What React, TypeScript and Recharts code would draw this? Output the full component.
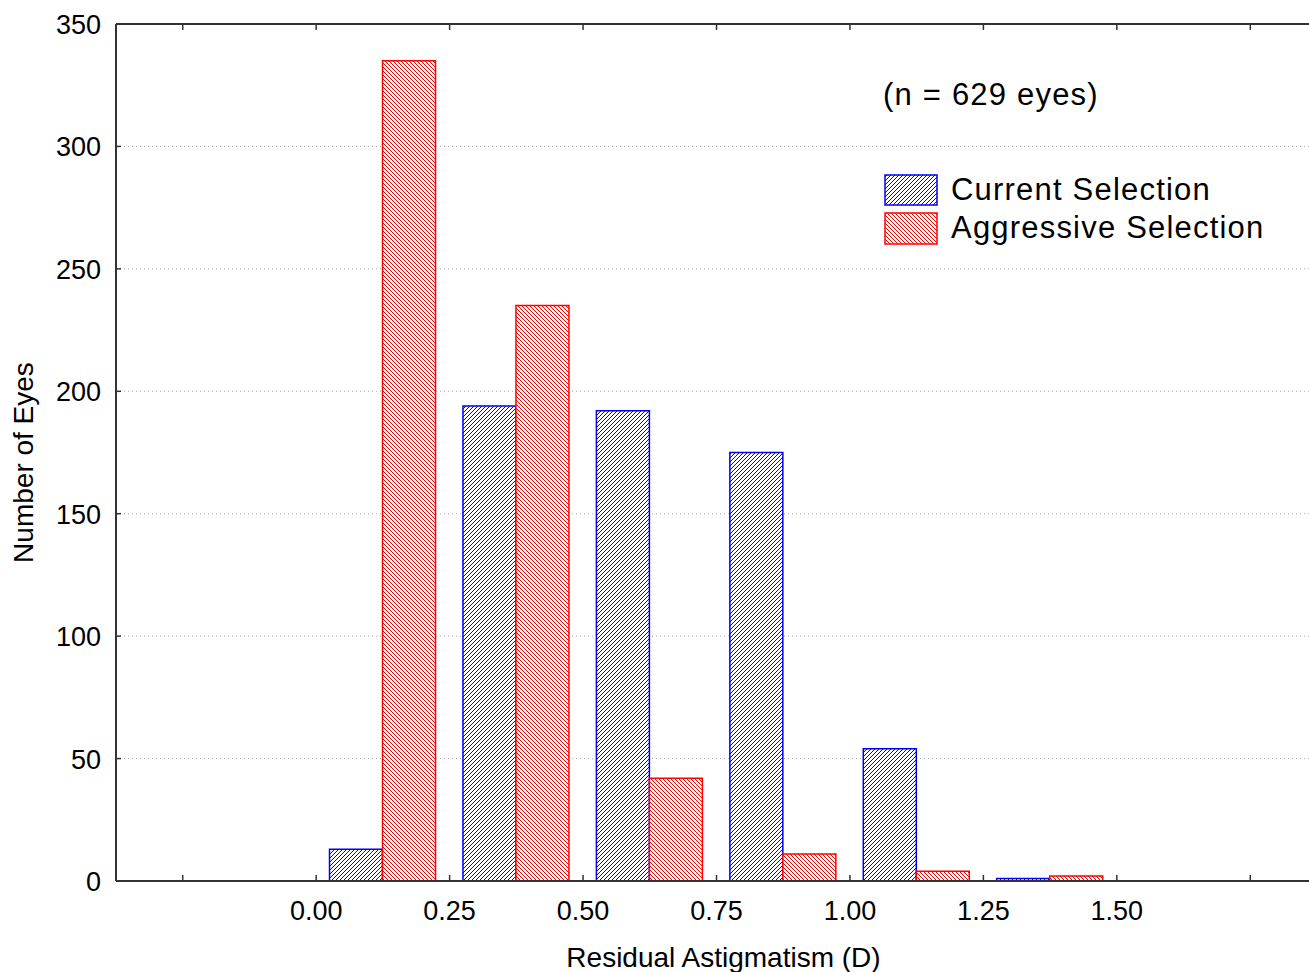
import React from 'react';
import { BarChart, Bar, XAxis, YAxis, CartesianGrid, Legend, ReferenceLine } from 'recharts';

// Histogram bins (bin centres, in D)
const bins = [0.125, 0.375, 0.625, 0.875, 1.125, 1.375];
const currentSelection = [13, 194, 192, 175, 54, 1];
const aggressiveSelection = [335, 235, 42, 11, 4, 2];

const xTicks = [-0.25, 0, 0.25, 0.5, 0.75, 1.0, 1.25, 1.5, 1.75];
const yTicks = [0, 50, 100, 150, 200, 250, 300, 350];

const data = bins.map((x, i) => ({
  x,
  current: currentSelection[i],
  aggressive: aggressiveSelection[i],
}));

const FONT = '"Liberation Sans", Arial, Helvetica, sans-serif';
const AXIS = '#333';
const BLUE = '#0000ff';
const RED = '#ff0000';

// pixel staircase for the 4x4 hatch tiles
const TILE = [0, 1, 2, 3];

function BottomTick(props: any) {
  const { x, y, payload } = props;
  const v = payload.value;
  const label = v < 0 || v > 1.5 ? '' : v.toFixed(2);
  return (
    <g>
      <line x1={x} y1={y} x2={x} y2={y - 6} stroke={AXIS} strokeWidth={1.5} />
      <text x={x} y={y + 39} textAnchor="middle" fontSize={27} fill="#000" fontFamily={FONT}>
        {label}
      </text>
    </g>
  );
}

function TopTick(props: any) {
  const { x, y } = props;
  return <line x1={x} y1={y} x2={x} y2={y + 6} stroke={AXIS} strokeWidth={1.5} />;
}

function LeftTick(props: any) {
  const { x, y, payload } = props;
  return (
    <g>
      <line x1={x} y1={y} x2={x + 5} y2={y} stroke={AXIS} strokeWidth={1.5} />
      <text x={x - 15} y={y + 10} textAnchor="end" fontSize={27} fill="#000" fontFamily={FONT}>
        {payload.value}
      </text>
    </g>
  );
}

function XTitle({ viewBox }: any) {
  return (
    <text
      x={viewBox.x + viewBox.width / 2 + 11}
      y={viewBox.y + 86}
      textAnchor="middle"
      fontSize={28}
      fill="#000"
      fontFamily={FONT}
    >
      Residual Astigmatism (D)
    </text>
  );
}

function YTitle({ viewBox }: any) {
  const x = viewBox.x + 33;
  const y = viewBox.y + viewBox.height / 2 + 10;
  return (
    <text
      x={x}
      y={y}
      transform={`rotate(-90, ${x}, ${y})`}
      textAnchor="middle"
      fontSize={28}
      fill="#000"
      fontFamily={FONT}
    >
      Number of Eyes
    </text>
  );
}

function LegendBox() {
  const txt = { fontSize: 31, fill: '#000', fontFamily: FONT, letterSpacing: 1.2 } as const;
  return (
    <svg width={440} height={200} style={{ display: 'block' }}>
      <text x={13} y={45} {...txt}>(n = 629 eyes)</text>
      <rect x={15} y={115} width={52} height={30} fill="url(#hatchBlue)" stroke={BLUE} strokeWidth={1.5} />
      <text x={81} y={140} {...txt}>Current Selection</text>
      <rect x={15} y={153} width={52} height={31} fill="url(#hatchRed)" stroke={RED} strokeWidth={1.5} />
      <text x={81} y={178} {...txt}>Aggressive Selection</text>
    </svg>
  );
}

export default function App() {
  return (
    <div
      style={{
        position: 'absolute',
        left: 0,
        top: 0,
        width: 1309,
        height: 972,
        overflow: 'hidden',
        background: '#fff',
        fontFamily: FONT,
      }}
    >
      <BarChart
        width={1309}
        height={972}
        data={data}
        margin={{ top: 23, right: 0, left: 0, bottom: 0 }}
        barGap={0}
        barCategoryGap="10%"
      >
        <defs>
          <pattern id="hatchBlue" patternUnits="userSpaceOnUse" width={4} height={4}>
            <rect width={4} height={4} fill="#fff" />
            {TILE.map((i) => (
              <rect key={i} x={i} y={3 - i} width={1} height={1} fill={BLUE} shapeRendering="crispEdges" />
            ))}
          </pattern>
          <pattern id="hatchRed" patternUnits="userSpaceOnUse" width={4} height={4}>
            <rect width={4} height={4} fill="#fff" />
            {TILE.map((i) => (
              <rect key={i} x={i} y={i} width={1} height={1} fill={RED} shapeRendering="crispEdges" />
            ))}
          </pattern>
        </defs>

        <CartesianGrid vertical={false} stroke="#aaa" strokeDasharray="1 3" />

        {/* Bottom axis with labels */}
        <XAxis
          dataKey="x"
          type="number"
          domain={[-0.375, 1.86]}
          allowDataOverflow
          ticks={xTicks}
          interval={0}
          height={91}
          tickSize={0}
          tickMargin={0}
          tick={<BottomTick />}
          axisLine={{ stroke: AXIS, strokeWidth: 2 }}
          label={<XTitle />}
        />

        {/* Top frame with inward ticks */}
        <XAxis
          xAxisId="top"
          orientation="top"
          dataKey="x"
          type="number"
          domain={[-0.375, 1.86]}
          allowDataOverflow
          ticks={xTicks}
          interval={0}
          height={1}
          tickSize={0}
          tickMargin={0}
          tick={<TopTick />}
          axisLine={{ stroke: AXIS, strokeWidth: 2 }}
        />

        <YAxis
          type="number"
          domain={[0, 350]}
          ticks={yTicks}
          interval={0}
          width={116}
          tickSize={0}
          tickMargin={0}
          tick={<LeftTick />}
          axisLine={{ stroke: AXIS, strokeWidth: 2 }}
          label={<YTitle />}
        />

        <ReferenceLine y={350} stroke={AXIS} strokeWidth={2} />

        <Legend
          layout="horizontal"
          verticalAlign="middle"
          align="center"
          content={() => <LegendBox />}
          wrapperStyle={{ top: 60, left: 870, width: 440, height: 200 }}
        />

        <Bar
          dataKey="current"
          name="Current Selection"
          fill="url(#hatchBlue)"
          stroke={BLUE}
          strokeWidth={1.5}
          isAnimationActive={false}
        />
        <Bar
          dataKey="aggressive"
          name="Aggressive Selection"
          fill="url(#hatchRed)"
          stroke={RED}
          strokeWidth={1.5}
          isAnimationActive={false}
        />
      </BarChart>
    </div>
  );
}
